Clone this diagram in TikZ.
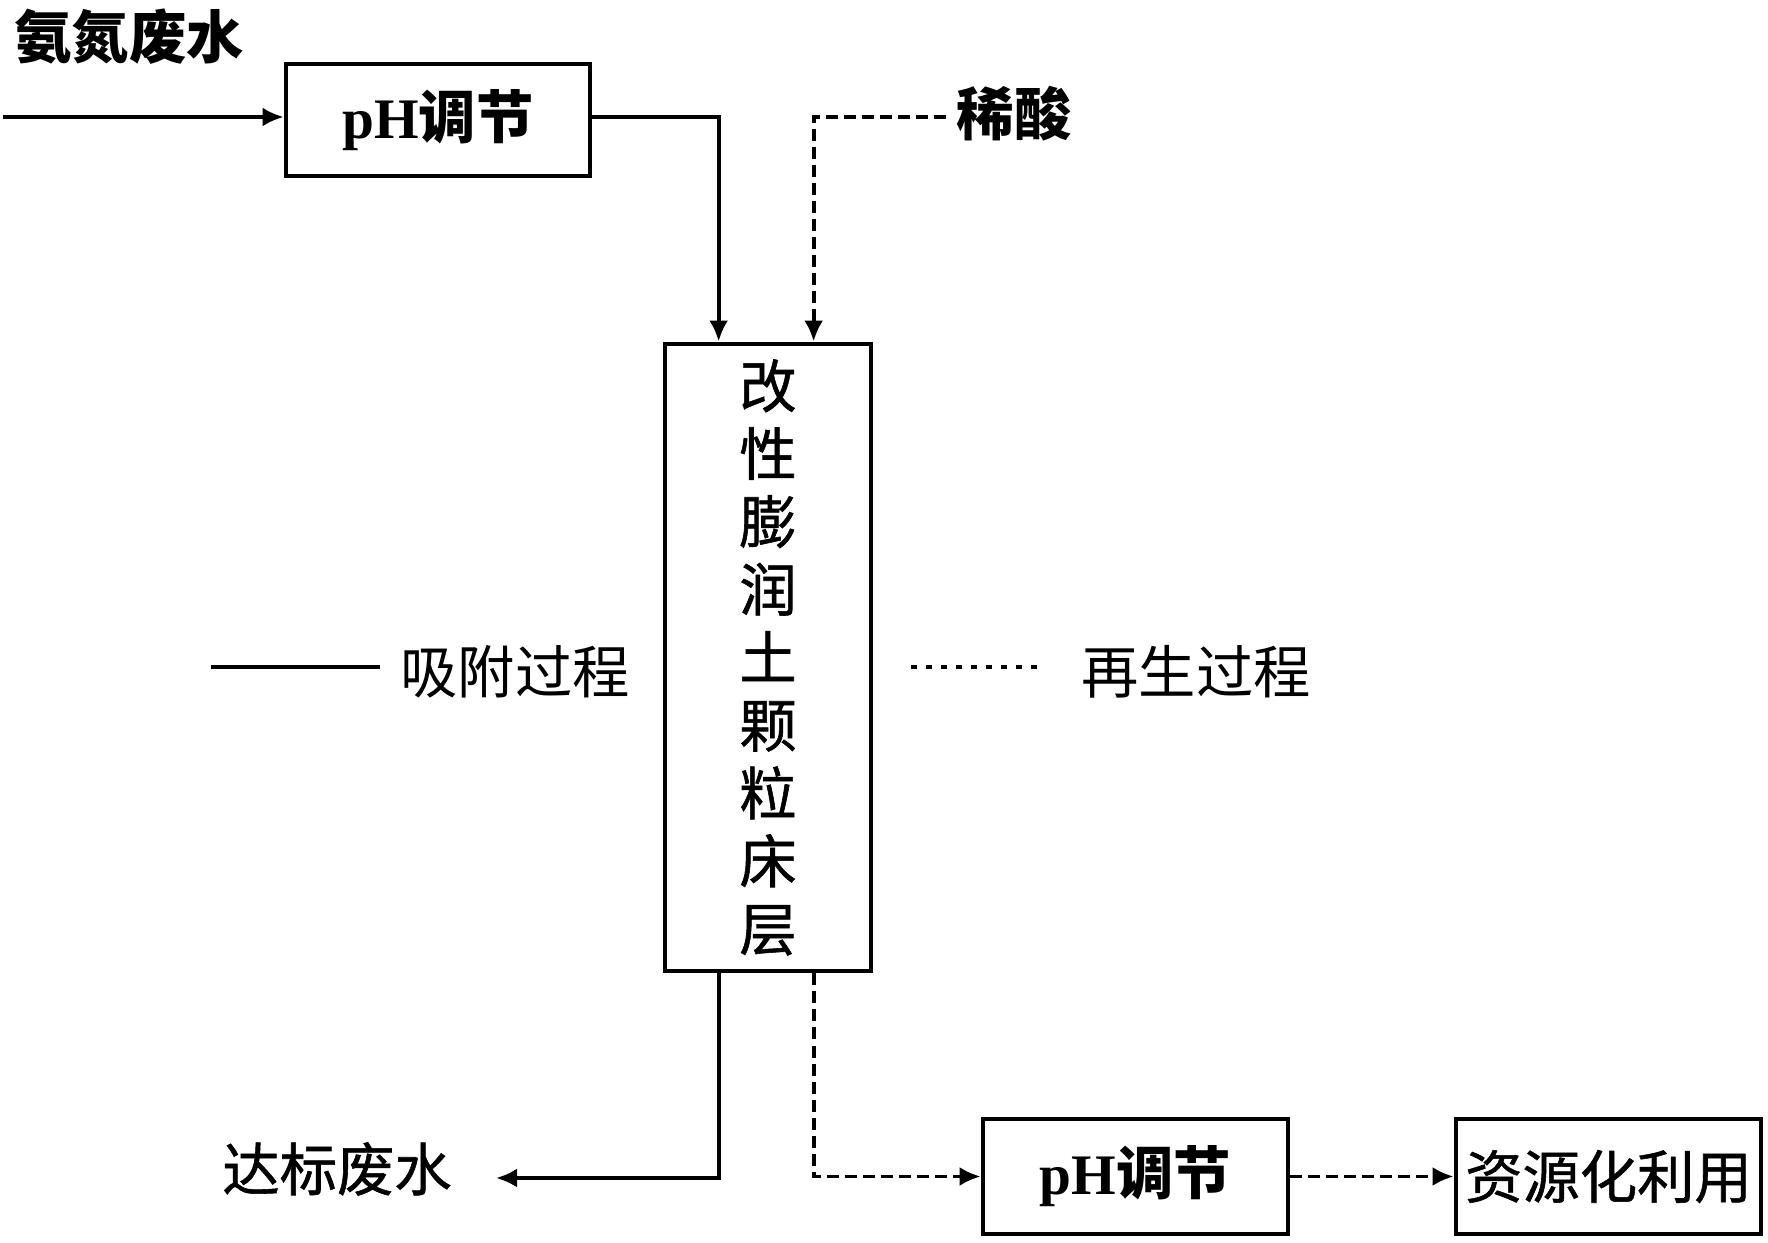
\documentclass[tikz,border=0pt]{standalone}
\usepackage{fontspec}
\setmainfont{Liberation Serif}
\newfontfamily\cjk{Noto Sans CJK SC}
\newfontfamily\cjkm{Noto Sans CJK SC}[FakeBold=1]
\usetikzlibrary{arrows.meta,calc}
\newcommand\myfs{\fontsize{16.3pt}{19.3pt}\selectfont}
\begin{document}
\begin{tikzpicture}[x=0.01cm,y=-0.01cm,
  box/.style={draw,line width=1.3pt,inner sep=0pt,font=\myfs\bfseries},
  flow/.style={line width=1.1pt,-{Latex[length=0.21cm,width=0.19cm]}},
  regen/.style={flow,dash pattern=on 0.12cm off 0.06cm},
  legsolid/.style={line width=1.2pt},
  legdash/.style={line width=1.2pt,dash pattern=on 0.06cm off 0.09cm},
  lblb/.style={inner sep=0pt,font=\cjk\bfseries\myfs},
  lblm/.style={inner sep=0pt,font=\cjkm\myfs},
  lblr/.style={inner sep=0pt,font=\cjk\myfs}]
\useasboundingbox (0,0) rectangle (1768,1243);
% top inflow
\node[lblb] (src) at (129,37) {氨氮废水};
\coordinate (in) at (3,117);
\node[box,minimum width=3.04cm,minimum height=1.12cm] (ph1) at (438,120) {pH{\cjk 调节}};
\draw[flow] (in) -- (in -| ph1.west);
% bed
\node[box,minimum width=2.06cm,minimum height=6.27cm,align=center,font=\cjkm\myfs] (bed) at (768,657.5)
  {改\\性\\膨\\润\\土\\颗\\粒\\床\\层};
\coordinate (bin1) at ($(bed.north west)+(56,0)$);
\coordinate (bin2) at ($(bed.north west)+(151,0)$);
\coordinate (bout1) at ($(bed.south west)+(56,0)$);
\coordinate (bout2) at ($(bed.south west)+(151,0)$);
\draw[flow] (ph1.east |- in) -| (bin1);
% acid
\node[lblb] (acid) at (1014,114) {稀酸};
\coordinate (acidend) at (946,117);
\draw[regen] (acidend) -| (bin2);
% legend
\coordinate (l1a) at (211,667);
\coordinate (l1b) at (380,667);
\draw[legsolid] (l1a) -- (l1b);
\node[lblr] (l1t) at (515,672) {吸附过程};
\coordinate (l2a) at (911,667);
\coordinate (l2b) at (1041,667);
\draw[legdash] (l2a) -- (l2b);
\node[lblr] (l2t) at (1196,672) {再生过程};
% outflow
\node[lblm] (out) at (337,1169) {达标废水};
\coordinate (outp) at (496,1178);
\draw[flow] (bout1) |- (outp);
% regeneration chain
\node[box,minimum width=3.05cm,minimum height=1.15cm] (ph2) at (1135.5,1176.5) {pH{\cjk 调节}};
\node[box,minimum width=3.05cm,minimum height=1.15cm,font=\cjkm\myfs] (res) at (1608.5,1176.5) {资源化利用};
\draw[regen] (bout2) |- (ph2.west);
\draw[regen] (ph2) -- (res);
\end{tikzpicture}
\end{document}
